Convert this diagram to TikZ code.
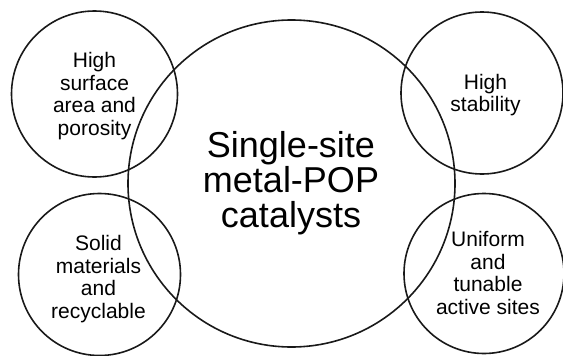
\documentclass[tikz,border=0pt]{standalone}
\usepackage{fontspec}
\setmainfont{Liberation Sans}
\begin{document}
\begin{tikzpicture}[x=1pt,y=-1pt,
  ring/.style={circle,draw=black!90,line width=1.6pt,inner sep=0pt},
  small/.style={align=center,inner sep=0pt,text=black,font=\fontsize{21}{22.5}\selectfont},
  big/.style={align=center,inner sep=0pt,text=black,font=\fontsize{36}{35}\selectfont}]
\useasboundingbox (0,0) rectangle (563,356);
\fill[white] (0,0) rectangle (563,356);
% circles
\node[ring,minimum size=327pt] (core) at (291.5,183.5) {};
\node[ring,minimum size=166pt] (tl) at (94.5,94) {};
\node[ring,minimum size=162pt] (tr) at (482,93) {};
\node[ring,minimum size=162pt] (bl) at (99.5,274.5) {};
\node[ring,minimum size=160pt] (br) at (484,273.5) {};
% texts
\node[big] (coretext) at (291,183) {Single-site\\metal-POP\\catalysts};
\node[small] (tltext) at (94.5,96) {High\\surface\\area and\\porosity};
\node[small] (trtext) at (485.5,95) {High\\stability};
\node[small] (bltext) at (98.5,279) {Solid\\materials\\and\\recyclable};
\node[small] (brtext) at (488,273) {Uniform\\and\\tunable\\active sites};
\end{tikzpicture}
\end{document}
